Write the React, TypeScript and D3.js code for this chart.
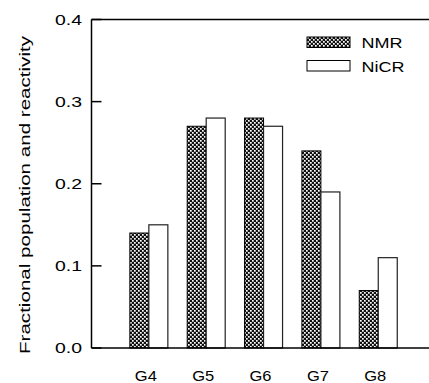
import React from "react";
import * as d3 from "d3";

const categories = ["G4", "G5", "G6", "G7", "G8"];
const nmrValues = [0.14, 0.27, 0.28, 0.24, 0.07];
const nicrValues = [0.15, 0.28, 0.27, 0.19, 0.11];
const yTicks = [0.0, 0.1, 0.2, 0.3, 0.4];
const seriesNames = ["NMR", "NiCR"];
const legendTextLen = [41, 43];

export default function App() {
  const W = 429, H = 383;
  const left = 91.5, top = 19.5, bottom = 348;
  const step = 57.35;
  const x = d3.scaleLinear().domain([0, 6]).range([left, left + 6 * step]);
  const y = d3.scaleLinear().domain([0, 0.4]).range([bottom, top]);
  const barW = 19;
  const font = "Arial, 'Liberation Sans', Helvetica, sans-serif";

  return (
    <svg width={W} height={H} style={{ position: "absolute", left: 0, top: 0, display: "block", background: "#fff" }}>
      <defs>
        <pattern id="hatch" width="4" height="4" patternUnits="userSpaceOnUse">
          <rect width="4" height="4" fill="#111" />
          <rect x="0" y="0" width="1.7" height="1.7" fill="#fff" />
          <rect x="2" y="2" width="1.7" height="1.7" fill="#fff" />
        </pattern>
      </defs>
      {categories.map((c, i) => {
        const cx = x(i + 1);
        return (
          <g key={c}>
            <rect x={cx - barW} y={y(nmrValues[i])} width={barW} height={bottom - y(nmrValues[i])}
              fill="url(#hatch)" stroke="#000" strokeWidth={1} />
            <rect x={cx} y={y(nicrValues[i])} width={barW} height={bottom - y(nicrValues[i])}
              fill="#fff" stroke="#222" strokeWidth={1.2} />
            <text x={cx - 3} y={381} textAnchor="middle" fontFamily={font} fontSize={15}
              textLength={22} lengthAdjust="spacingAndGlyphs" fill="#000">{c}</text>
          </g>
        );
      })}
      <line x1={left} x2={W} y1={top} y2={top} stroke="#000" strokeWidth={1.5} />
      <line x1={left} x2={W} y1={bottom} y2={bottom} stroke="#000" strokeWidth={1.5} />
      <line x1={left} x2={left} y1={top} y2={bottom} stroke="#000" strokeWidth={1.5} />
      {yTicks.map((t) => (
        <g key={t}>
          <line x1={left} x2={left + 10} y1={y(t)} y2={y(t)} stroke="#000" strokeWidth={1.5} />
          <text x={55} y={y(t) + 5} fontFamily={font} fontSize={14}
            textLength={27} lengthAdjust="spacingAndGlyphs" fill="#000">
            {d3.format(".1f")(t)}
          </text>
        </g>
      ))}
      <text transform={`translate(30,195) rotate(-90)`} textAnchor="middle"
        fontFamily={font} fontSize={14.5} textLength={318} lengthAdjust="spacingAndGlyphs"
        fill="#000">Fractional population and reactivity</text>
      {seriesNames.map((s, i) => (
        <g key={s} transform={`translate(307,${37 + i * 23.5})`}>
          <rect x={0} y={0} width={43} height={10.5} fill={i === 0 ? "url(#hatch)" : "#fff"} stroke="#000" strokeWidth={1} />
          <text x={54.5} y={11} fontFamily={font} fontSize={14}
            textLength={legendTextLen[i]} lengthAdjust="spacingAndGlyphs" fill="#000">{s}</text>
        </g>
      ))}
    </svg>
  );
}
